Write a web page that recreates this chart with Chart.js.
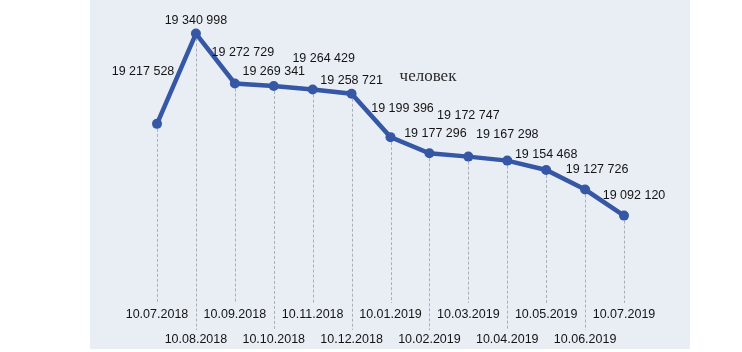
<!DOCTYPE html>
<html>
<head>
<meta charset="utf-8">
<script src="https://cdn.jsdelivr.net/npm/chart.js@4/dist/chart.umd.min.js"></script>
<style>
  html, body { margin: 0; padding: 0; background: #ffffff; }
  #wrap { width: 742px; height: 352px; position: relative; }
</style>
</head>
<body>
<div id="wrap"><canvas id="c" width="742" height="352"></canvas></div>
<script>
// ---- data ----
const dates = ['10.07.2018','10.08.2018','10.09.2018','10.10.2018','10.11.2018','10.12.2018',
               '10.01.2019','10.02.2019','10.03.2019','10.04.2019','10.05.2019','10.06.2019','10.07.2019'];
const population = [19217528, 19340998, 19272729, 19269341, 19264429, 19258721,
                     19199396, 19177296, 19172747, 19167298, 19154468, 19127726, 19092120];
const unitLabel = 'человек';

// ---- label styling (offsets relative to each point) ----
const labelOffsets = [[-14,-52],[0,-13],[8,-31],[0,-14],[11,-31],[0,-13],[12,-29],
                      [6,-20],[0,-41],[0,-26],[0,-15],[12,-20],[10,-20]];

function fmt(n) { return String(n).replace(/\B(?=(\d{3})+(?!\d))/g, ' '); }

// staggered two-row date labels
const tickLabels = dates.map((d, i) => i % 2 === 0 ? [d, ''] : ['', d]);

const panelPlugin = {
  id: 'panel',
  beforeDraw(chart) {
    const { ctx, chartArea } = chart;
    ctx.save();
    ctx.fillStyle = '#ffffff';
    ctx.fillRect(0, 0, chart.width, chart.height);
    ctx.fillStyle = '#e9eef5';
    ctx.fillRect(chartArea.left - 67, 0, (chartArea.right + 66) - (chartArea.left - 67), 349);
    ctx.restore();
  },
  beforeDatasetsDraw(chart) {
    const { ctx, chartArea } = chart;
    const meta = chart.getDatasetMeta(0);
    ctx.save();
    ctx.strokeStyle = '#aab0b8';
    ctx.lineWidth = 1;
    ctx.setLineDash([3, 2]);
    meta.data.forEach((pt, i) => {
      const x = Math.round(pt.x) + 0.5;
      const yEnd = chartArea.bottom + (i % 2 === 0 ? 20 : 47);
      ctx.beginPath();
      ctx.moveTo(x, pt.y);
      ctx.lineTo(x, yEnd);
      ctx.stroke();
    });
    ctx.restore();
  },
  afterDatasetsDraw(chart) {
    const { ctx, chartArea } = chart;
    const meta = chart.getDatasetMeta(0);
    ctx.save();
    ctx.fillStyle = '#141414';
    ctx.font = '12.5px "Liberation Sans", Arial, sans-serif';
    ctx.textAlign = 'center';
    ctx.textBaseline = 'middle';
    meta.data.forEach((pt, i) => {
      const [dx, dy] = labelOffsets[i];
      ctx.fillText(fmt(population[i]), pt.x + dx, pt.y + dy);
    });
    ctx.fillStyle = '#2a2a2a';
    ctx.font = '17px "Liberation Serif", "DejaVu Serif", serif';
    ctx.fillText(unitLabel, chartArea.left + 271, 77);
    ctx.restore();
  }
};

new Chart(document.getElementById('c'), {
  type: 'line',
  data: {
    labels: tickLabels,
    datasets: [{
      data: population,
      borderColor: '#3557a5',
      backgroundColor: '#3557a5',
      borderWidth: 4.5,
      pointRadius: 5,
      pointHoverRadius: 5,
      pointBackgroundColor: '#3557a5',
      pointBorderWidth: 0,
      tension: 0,
      clip: false
    }]
  },
  options: {
    responsive: false,
    animation: false,
    events: [],
    layout: { padding: { left: 157, right: 118, top: 5, bottom: 2 } },
    plugins: { legend: { display: false }, tooltip: { enabled: false }, title: { display: false } },
    scales: {
      x: {
        grid: { display: false, drawTicks: false },
        border: { display: false },
        afterFit(scale) { scale.height = 67; },
        ticks: {
          color: '#141414',
          padding: 19,
          maxRotation: 0,
          autoSkip: false,
          font: { family: '"Liberation Sans", Arial, sans-serif', size: 12.5, lineHeight: '25px' }
        }
      },
      y: {
        display: false,
        min: 19000000,
        max: 19380000
      }
    }
  },
  plugins: [panelPlugin]
});
</script>
</body>
</html>
